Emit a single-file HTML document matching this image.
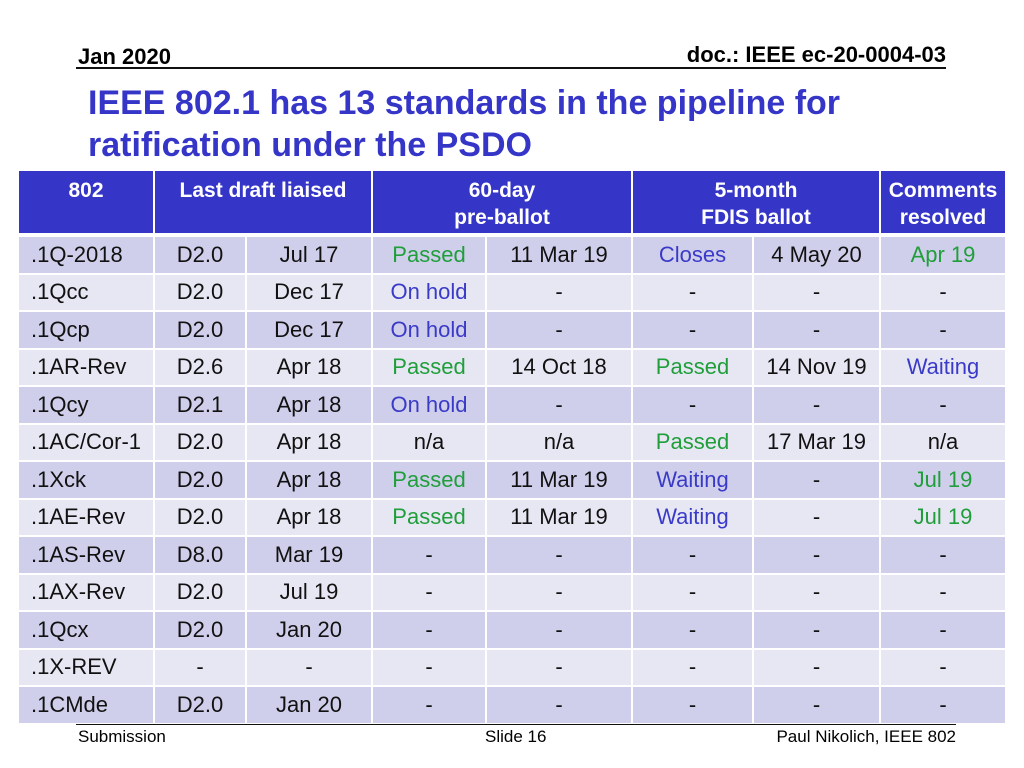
<!DOCTYPE html>
<html><head><meta charset="utf-8"><style>
body{margin:0;width:1024px;height:768px;background:#fff;position:relative;font-family:"Liberation Sans",Arial,sans-serif;overflow:hidden}
.a{position:absolute}
.c{position:absolute;display:flex;align-items:center;justify-content:center;font-size:22px;color:#111;box-sizing:border-box}
.h{background:#3535c8;color:#fff;font-weight:bold;font-size:21px;align-items:flex-start;padding-top:6px;text-align:center;line-height:27px}
.g{color:#1f9e3a}.b{color:#3a3ac8}
</style></head><body>
<div class="a" style="left:78px;top:44px;font-size:22px;font-weight:bold">Jan 2020</div>
<div class="a" style="right:78px;top:42px;font-size:22px;font-weight:bold">doc.: IEEE ec-20-0004-03</div>
<div class="a" style="left:76px;top:67px;width:870px;height:2px;background:#111"></div>
<div class="a" style="left:88px;top:82px;font-size:34px;font-weight:bold;color:#3535c8;line-height:42px">IEEE 802.1 has 13 standards in the pipeline for<br>ratification under the PSDO</div>
<div id="t"></div>
<div class="a" style="left:76px;top:724px;width:880px;height:1px;background:#111"></div>
<div class="a" style="left:78px;top:727px;font-size:17px">Submission</div>
<div class="a" style="left:485px;top:727px;font-size:17px">Slide 16</div>
<div class="a" style="right:68px;top:727px;font-size:17px">Paul Nikolich, IEEE 802</div>
<script>
const colX=[18,154,246,372,486,632,753,880,1006];
const headers=[["802",0,1],["Last draft liaised",1,3],["60-day<br>pre-ballot",3,5],["5-month<br>FDIS ballot",5,7],["Comments<br>resolved",7,8]];
const rows=[
[".1Q-2018","D2.0","Jul 17","Passed","11 Mar 19","Closes","4 May 20","Apr 19"],
[".1Qcc","D2.0","Dec 17","On hold","-","-","-","-"],
[".1Qcp","D2.0","Dec 17","On hold","-","-","-","-"],
[".1AR-Rev","D2.6","Apr 18","Passed","14 Oct 18","Passed","14 Nov 19","Waiting"],
[".1Qcy","D2.1","Apr 18","On hold","-","-","-","-"],
[".1AC/Cor-1","D2.0","Apr 18","n/a","n/a","Passed","17 Mar 19","n/a"],
[".1Xck","D2.0","Apr 18","Passed","11 Mar 19","Waiting","-","Jul 19"],
[".1AE-Rev","D2.0","Apr 18","Passed","11 Mar 19","Waiting","-","Jul 19"],
[".1AS-Rev","D8.0","Mar 19","-","-","-","-","-"],
[".1AX-Rev","D2.0","Jul 19","-","-","-","-","-"],
[".1Qcx","D2.0","Jan 20","-","-","-","-","-"],
[".1X-REV","-","-","-","-","-","-","-"],
[".1CMde","D2.0","Jan 20","-","-","-","-","-"]];
const t=document.getElementById('t');
headers.forEach(h=>{const d=document.createElement('div');d.className='c h';


d.style.left=(colX[h[1]]+1)+'px';d.style.top='171px';d.style.width=(colX[h[2]]-colX[h[1]]-2)+'px';d.style.height='62px';d.innerHTML=h[0];t.appendChild(d);});
const top0=236,rh=37.5;
rows.forEach((r,i)=>{r.forEach((v,j)=>{const d=document.createElement('div');d.className='c';


d.style.left=(colX[j]+1)+'px';d.style.top=(top0+i*rh+1)+'px';d.style.width=(colX[j+1]-colX[j]-2)+'px';d.style.height=(rh-2)+'px';
d.style.background=i%2?'#e7e7f4':'#cfcfeb';
if(j==0){d.style.justifyContent='flex-start';d.style.paddingLeft='12px';}
if(v=='Passed'||(j==7&&/19/.test(v)))d.classList.add('g');
if(v=='On hold'||v=='Closes'||v=='Waiting')d.classList.add('b');
d.textContent=v;t.appendChild(d);});});
</script>
</body></html>
